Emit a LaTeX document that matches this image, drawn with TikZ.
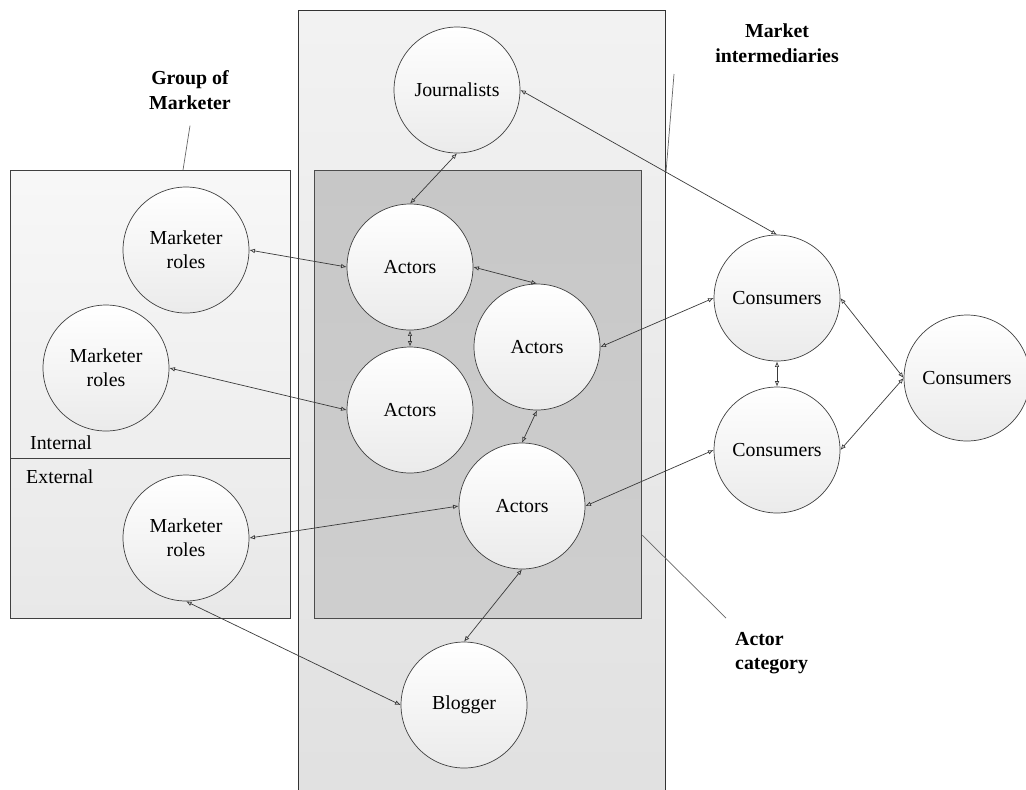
\documentclass[tikz,border=0pt]{standalone}
\usepackage{fontspec}
\setmainfont{Liberation Serif}
\usetikzlibrary{arrows.meta}
\definecolor{ringgray}{HTML}{404040}
\definecolor{linkgray}{HTML}{3A3A3A}
\tikzset{
  actor/.style={circle,draw=ringgray,thin,top color=white,bottom color=black!8,
    minimum size=2.52cm,inner sep=0pt,align=center,font=\fontsize{11.3}{13.5}\selectfont},
  link/.style={draw=linkgray,thin,{Latex[open,length=3.2pt,width=2.6pt]}-{Latex[open,length=3.2pt,width=2.6pt]}},
  pointer/.style={draw=black!60,thin},
  caption/.style={align=center,font=\fontsize{11.3}{14}\selectfont\bfseries},
  plain/.style={font=\fontsize{11.3}{13.5}\selectfont}
}
\begin{document}
\begin{tikzpicture}[x=0.02cm,y=-0.02cm]
			%\draw[help lines](0,0)grid[step=50](1026,789);
			\clip (0,0) rectangle (1026,789);
			
			\draw [black!75,top color=black!3,bottom color=black!9](10,170) rectangle (290,618);
			\draw [black!75](10,458)--(290,458);
			\draw [black!80,top color=black!5,bottom color=black!12](298,10) rectangle (665,800);
			\draw [black!70,top color=black!22,bottom color=black!19](314,170) rectangle (641,618);
			
			\node [plain,anchor=west] (internal) at(24,443){Internal};
			\node [plain,anchor=west] (external) at(20,477){External};
			
			\node [actor] (jour) at(457,90){Journalists};
			\node [actor] (act1) at(410,267){Actors};
			\node [actor] (act2) at(537,347){Actors};
			\node [actor] (act3) at(410,410){Actors};
			\node [actor] (act4) at(522,506){Actors};
			\node [actor] (blog) at(464,705){Blogger};
			
			\node [actor] (mark1) at(186,250){Marketer\\roles};
			\node [actor] (mark2) at(106,368){Marketer\\roles};
			\node [actor] (mark3) at(186,538){Marketer\\roles};
			
			\node [actor] (cons1) at(777,298){Consumers};
			\node [actor] (cons2) at(777,450){Consumers};
			\node [actor] (cons3) at(967,378){Consumers};
			
			\draw [link](jour.south)--(act1.north);
			\draw [link](jour.east)--(cons1.north);
			\draw [link](mark1.east)--(act1.west);
			\draw [link](mark2.east)--(act3.west);
			\draw [link](mark3.east)--(act4.west);
			\draw [link](mark3.south)--(blog.west);
			\draw [link](act1.east)--(act2.north);
			\draw [link](act1.south)--(act3.north);
			\draw [link](act2.south)--(act4.north);
			\draw [link](act2.east)--(cons1.west);
			\draw [link](act4.east)--(cons2.west);
			\draw [link](act4.south)--(blog.north);
			\draw [link](cons1.south)--(cons2.north);
			\draw [link](cons1.east)--(cons3.west);
			\draw [link](cons2.east)--(cons3.west);
			
			\node [caption] (group) at(190,90){Group of\\Marketer};
			\coordinate (groupend) at(183,170);
			\draw [pointer](group.south)++(0,10)--(groupend);
			
			\node [caption] (inter) at(777,43){Market\\intermediaries};
			\coordinate (interend) at(666,172);
			\draw [pointer](674,74)--(interend);
			
			\node [caption,align=left,anchor=north west] (category) at(729,626){Actor\\category};
			\coordinate (categoryend) at(642,535);
			\draw [pointer](726,618)--(categoryend);
			
		\end{tikzpicture}
\end{document}
